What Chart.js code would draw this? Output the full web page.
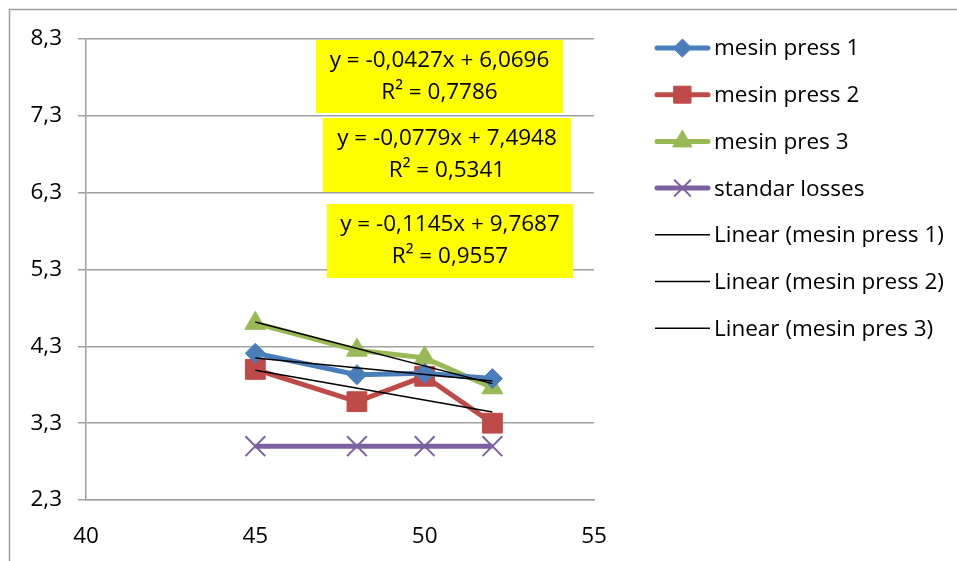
<!DOCTYPE html>
<html>
<head>
<meta charset="utf-8">
<script src="https://cdn.jsdelivr.net/npm/chart.js@4"></script>
<style>
  html, body { margin: 0; padding: 0; background: #fff; }
  #wrap { width: 957px; height: 561px; position: relative; }
</style>
</head>
<body>
<div id="wrap"><canvas id="chart" width="957" height="561"></canvas></div>
<script>
const xValues = [45, 48, 50, 52];
const press1 = [4.21, 3.93, 3.95, 3.88];
const press2 = [4.00, 3.58, 3.91, 3.30];
const press3 = [4.60, 4.25, 4.15, 3.76];
const standar = [3.0, 3.0, 3.0, 3.0];
const seriesNames = ['mesin press 1', 'mesin press 2', 'mesin pres 3', 'standar losses'];
const trendNames = ['Linear (mesin press 1)', 'Linear (mesin press 2)', 'Linear (mesin pres 3)'];
const trendSlope = [-0.0427, -0.0779, -0.1145];
const trendIntercept = [6.0696, 7.4948, 9.7687];
const trendR2 = ['0,7786', '0,5341', '0,9557'];
const yTicks = [2.3, 3.3, 4.3, 5.3, 6.3, 7.3, 8.3];
const xTicks = [40, 45, 50, 55];

const FONT = '"Open Sans", Lato, sans-serif';
const FS = 22.5;
const colors = ['#4a7ebb', '#be4b48', '#98b954', '#7d60a0'];
const styles = ['rectRot', 'rect', 'triangle', 'crossRot'];
const radii = [10, 14, 12, 14];
const legendRadii = [9, 12, 11, 11];

function pts(ys) { return xValues.map((x, i) => ({ x: x, y: ys[i] })); }
function fmt(v) { return String(v).replace('.', ','); }

const seriesData = [press1, press2, press3, standar];
const datasets = seriesData.map((d, i) => ({
  label: seriesNames[i],
  data: pts(d),
  borderColor: colors[i],
  backgroundColor: colors[i],
  borderWidth: 5,
  pointStyle: styles[i],
  pointRadius: radii[i],
  pointBorderWidth: i === 3 ? 2 : 1,
  pointBorderColor: colors[i],
  order: 2
}));
trendSlope.forEach((m, i) => {
  const x0 = xValues[0], x1 = xValues[xValues.length - 1];
  datasets.push({
    label: trendNames[i],
    data: [{ x: x0, y: m * x0 + trendIntercept[i] }, { x: x1, y: m * x1 + trendIntercept[i] }],
    borderColor: '#000',
    borderWidth: 1.5,
    pointRadius: 0,
    order: 1
  });
});

// trend equation boxes, placed at pixel positions like the original
const boxPos = [[316, 40, 247, 73], [323, 118, 248, 74], [327, 204, 246, 74]];

const extras = {
  id: 'extras',
  afterDraw(chart) {
    const ctx = chart.ctx;
    ctx.save();
    // outer frame
    ctx.strokeStyle = '#a0a0a0';
    ctx.lineWidth = 1.5;
    ctx.beginPath();
    ctx.moveTo(9.5, 600); ctx.lineTo(9.5, 9.5); ctx.lineTo(1000, 9.5);
    ctx.stroke();
    // equation boxes
    ctx.font = FS + 'px ' + FONT;
    ctx.textAlign = 'center';
    ctx.textBaseline = 'middle';
    boxPos.forEach((b, i) => {
      ctx.fillStyle = '#ffff00';
      ctx.fillRect(b[0], b[1], b[2], b[3]);
      ctx.fillStyle = '#000';
      const cx = b[0] + b[2] / 2;
      ctx.fillText('y = ' + fmt(trendSlope[i]) + 'x + ' + fmt(trendIntercept[i]), cx, b[1] + 21);
      ctx.fillText('R² = ' + trendR2[i], cx, b[1] + 53);
    });
    // legend
    const lx = 655, lx2 = 710, ly0 = 48, step = 46.7;
    ctx.textAlign = 'left';
    chart.data.datasets.forEach((ds, i) => {
      const y = ly0 + i * step;
      ctx.strokeStyle = ds.borderColor;
      ctx.lineWidth = i < 4 ? 5 : 1.5;
      ctx.lineCap = i < 4 ? 'round' : 'butt';
      ctx.beginPath();
      ctx.moveTo(i < 4 ? lx + 2 : lx, y); ctx.lineTo(i < 4 ? lx2 - 2 : lx2, y);
      ctx.stroke();
      if (i < 4) {
        ctx.fillStyle = ds.backgroundColor;
        ctx.strokeStyle = ds.borderColor;
        ctx.lineWidth = ds.pointBorderWidth;
        Chart.helpers.drawPoint(ctx, {
          pointStyle: ds.pointStyle, radius: legendRadii[i], rotation: 0,
          borderWidth: ds.pointBorderWidth
        }, (lx + lx2) / 2, y);
      }
      ctx.fillStyle = '#000';
      ctx.fillText(ds.label, 714, y + 1);
    });
    ctx.restore();
  }
};

new Chart(document.getElementById('chart'), {
  type: 'line',
  data: { datasets: datasets },
  options: {
    responsive: false,
    animation: false,
    layout: { padding: { top: 39, right: 363, left: 0, bottom: 0 } },
    plugins: { legend: { display: false }, tooltip: { enabled: false } },
    scales: {
      x: {
        type: 'linear', min: 40, max: 55,
        afterBuildTicks: s => { s.ticks = xTicks.map(v => ({ value: v })); },
        afterFit: s => { s.height = 61; },
        grid: { display: false, drawOnChartArea: false, drawTicks: true, tickLength: 8, tickColor: '#a0a0a0' },
        border: { color: '#a0a0a0', width: 1.5 },
        ticks: { color: '#000', font: { family: FONT, size: FS }, padding: 15, maxRotation: 0 }
      },
      y: {
        min: 2.3, max: 8.3,
        afterBuildTicks: s => { s.ticks = yTicks.map(v => ({ value: v })); },
        afterFit: s => { s.width = 86; },
        grid: { color: '#a0a0a0', lineWidth: 1.5, tickLength: 8, tickColor: '#a0a0a0' },
        border: { color: '#a0a0a0', width: 1.5 },
        ticks: { color: '#000', font: { family: FONT, size: FS }, padding: 16, callback: v => fmt(v.toFixed(1)) }
      }
    }
  },
  plugins: [extras]
});
</script>
</body>
</html>
